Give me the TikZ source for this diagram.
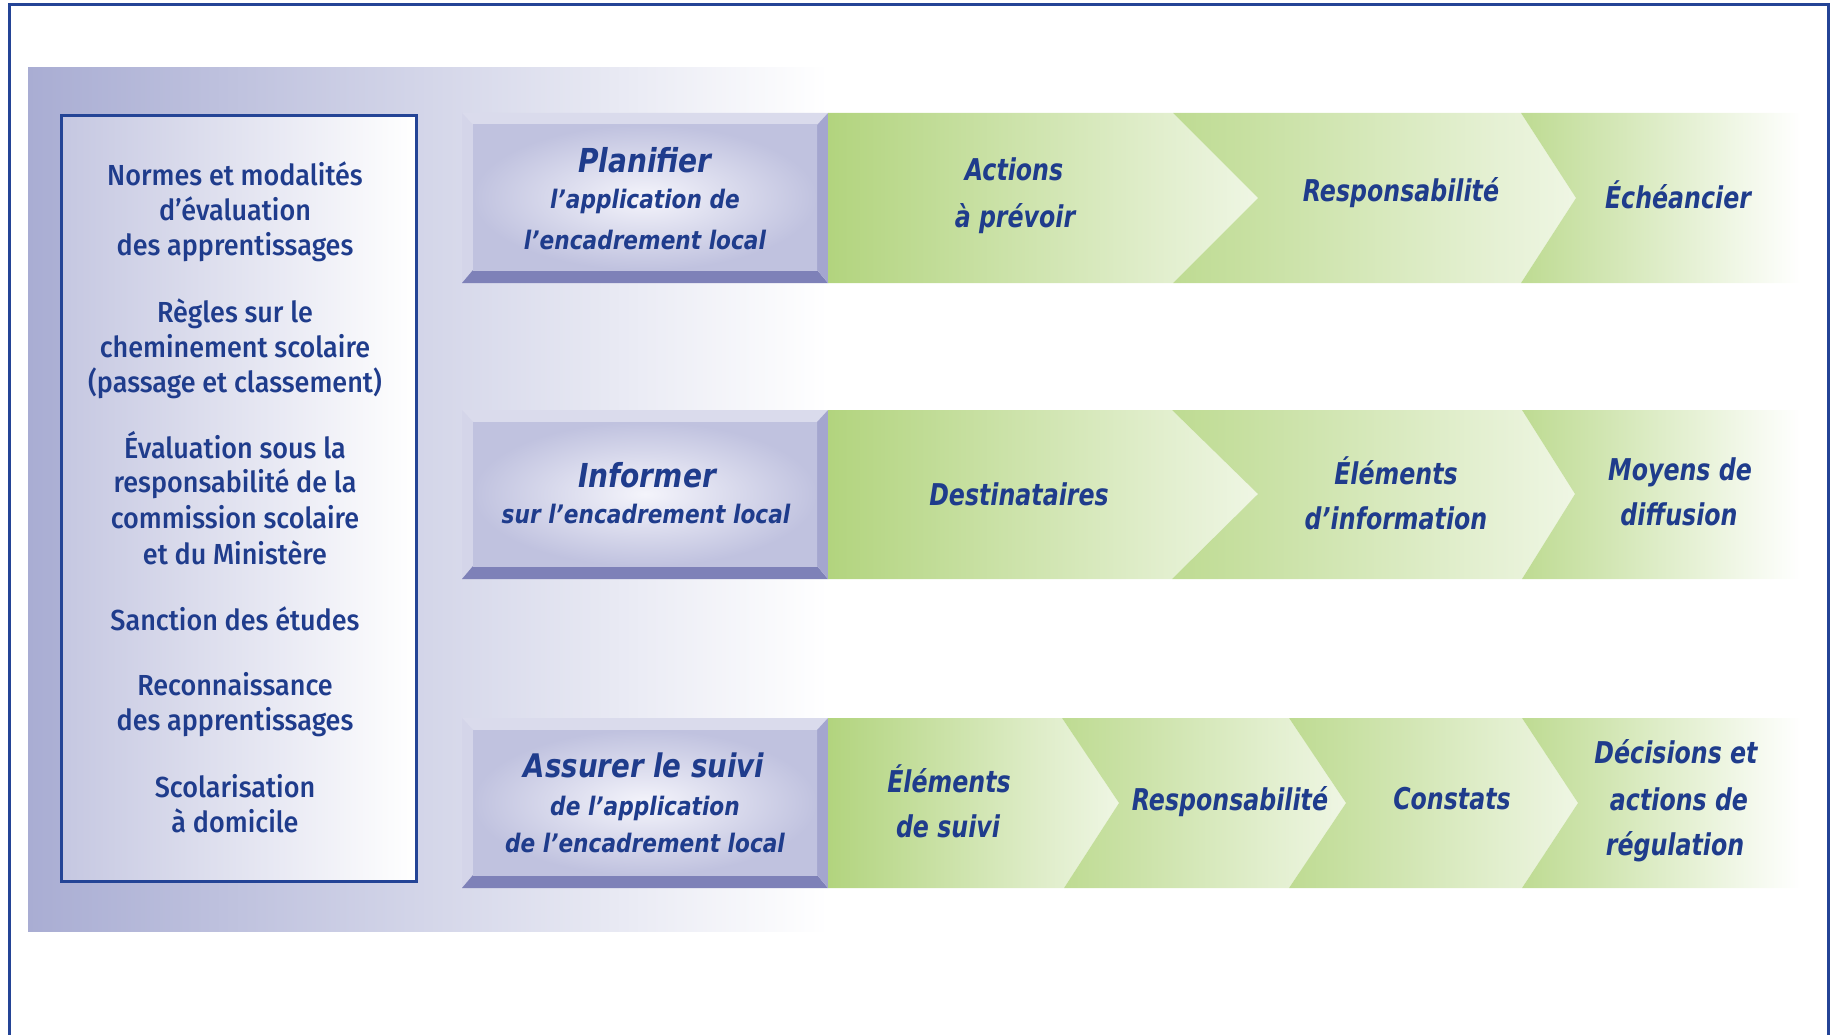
\documentclass[tikz,border=0pt]{standalone}
\usepackage{fontspec}
\setmainfont{Fira Sans}
\newfontfamily\lbfont{Fira Sans Medium}[FakeStretch=0.93]
\newfontfamily\kfont{DejaVu Sans Bold Oblique}[FakeStretch=0.85]
\newfontfamily\kfontn{DejaVu Sans Bold Oblique}[FakeStretch=0.79]
\definecolor{tblue}{RGB}{31,60,140}
\definecolor{bblue}{RGB}{36,68,150}
\definecolor{panL}{RGB}{169,173,211}
\definecolor{boxL}{RGB}{197,199,225}
\definecolor{bvTop}{RGB}{218,219,236}
\definecolor{bvLeft}{RGB}{212,213,233}
\definecolor{bvBot}{RGB}{126,129,184}
\definecolor{bvRight}{RGB}{164,166,207}
\definecolor{faceC}{RGB}{244,244,251}
\definecolor{faceE}{RGB}{192,194,223}
\definecolor{gA}{RGB}{178,212,126}
\definecolor{gB}{RGB}{190,219,146}
\definecolor{gR}{RGB}{239,246,228}
\begin{document}
\begin{tikzpicture}[x=1pt,y=-1pt,
  lt/.style={font=\lbfont\fontsize{29}{35}\selectfont, text=tblue, anchor=base, inner sep=0pt},
  kt/.style={font=\kfontn\fontsize{30}{36}\selectfont, text=tblue, anchor=base, inner sep=0pt},
  ttl/.style={kt, font=\kfont\fontsize{33}{40}\selectfont},
  sub/.style={kt, font=\kfont\fontsize{25.5}{30}\selectfont},
  chevA/.style={left color=gA, right color=gR},
  chevB/.style={left color=gB, right color=gR},
  chevEnd/.style={left color=gB, right color=white},
]
\useasboundingbox (0,0) rectangle (1831,1035);
% background panel
\fill[left color=panL, right color=white] (28,68) rectangle (828,931);
% left box
\draw[line width=3pt, draw=bblue, left color=boxL, right color=white] (61,116) rectangle (416,881);
% bevel boxes
\foreach \T/\B in {113/283,410/579,718/888}{
  \fill[bvTop] (462,\T) -- (828,\T) -- (817,\T+12) -- (473,\T+12) -- cycle;
  \fill[bvLeft] (462,\T) -- (473,\T+12) -- (473,\B-13) -- (462,\B) -- cycle;
  \fill[bvBot] (462,\B) -- (473,\B-13) -- (817,\B-13) -- (828,\B) -- cycle;
  \fill[bvRight] (828,\T) -- (828,\B) -- (817,\B-13) -- (817,\T+12) -- cycle;
  \shade[inner color=faceC, outer color=faceE] (473,\T+12) rectangle (817,\B-13);
}
% row 1 chevrons
\shade[chevA] (828,113) -- (1173,113) -- (1258,198) -- (1173,283) -- (828,283) -- cycle;
\shade[chevB] (1173,113) -- (1521,113) -- (1576,198) -- (1521,283) -- (1173,283) -- (1258,198) -- cycle;
\shade[chevEnd] (1521,113) -- (1801,113) -- (1801,283) -- (1521,283) -- (1576,198) -- cycle;
% row 2 chevrons
\shade[chevA] (828,410) -- (1172,410) -- (1258,494) -- (1172,579) -- (828,579) -- cycle;
\shade[chevB] (1172,410) -- (1522,410) -- (1575,494) -- (1522,579) -- (1172,579) -- (1258,494) -- cycle;
\shade[chevEnd] (1522,410) -- (1801,410) -- (1801,579) -- (1522,579) -- (1575,494) -- cycle;
% row 3 chevrons
\shade[chevA] (828,718) -- (1062,718) -- (1119,803) -- (1064,888) -- (828,888) -- cycle;
\shade[chevB] (1062,718) -- (1289,718) -- (1346,803) -- (1289,888) -- (1064,888) -- (1119,803) -- cycle;
\shade[chevB] (1289,718) -- (1522,718) -- (1578,803) -- (1522,888) -- (1289,888) -- (1346,803) -- cycle;
\shade[chevEnd] (1522,718) -- (1801,718) -- (1801,888) -- (1522,888) -- (1578,803) -- cycle;
% outer frame
\draw[bblue, line width=3pt] (9,1035) -- (9,5) -- (1828,5) -- (1828,1035);
% left box texts
\foreach \t/\y [count=\i] in {{Normes et modalités}/186, {d’évaluation}/221, {des apprentissages}/255, {Règles sur le}/322, {cheminement scolaire}/357, {(passage et classement)}/392, {Évaluation sous la}/458, {responsabilité de la}/492, {commission scolaire}/528, {et du Ministère}/564, {Sanction des études}/630, {Reconnaissance}/695, {des apprentissages}/730, {Scolarisation}/797, {à domicile}/832}
  \node[lt] (L\i) at (235,\y) {\t};
% bevel box texts
\node[ttl] (P1) at (645,173) {Planifier};
\node[sub] (P2) at (645,208) {l’application de};
\node[sub] (P3) at (645,249) {l’encadrement local};
\node[ttl] (I1) at (647,487) {Informer};
\node[sub] (I2) at (646,523) {sur l’encadrement local};
\node[ttl, font=\kfont\fontsize{32.5}{38}\selectfont] (S1) at (644,777) {Assurer le suivi};
\node[sub] (S2) at (645,815) {de l’application};
\node[sub] (S3) at (645,852) {de l’encadrement local};
% chevron texts
\node[kt] (A1) at (1014,181) {Actions};
\node[kt] (A2) at (1015,228) {à prévoir};
\node[kt] (A3) at (1401,202) {Responsabilité};
\node[kt] (A4) at (1678,208) {Échéancier};
\node[kt] (B1) at (1019,505) {Destinataires};
\node[kt] (B2) at (1396,484) {Éléments};
\node[kt] (B3) at (1396,529) {d’information};
\node[kt] (B4) at (1680,480) {Moyens de};
\node[kt] (B5) at (1679,525) {diffusion};
\node[kt] (C1) at (949,792) {Éléments};
\node[kt] (C2) at (948,837) {de suivi};
\node[kt] (C3) at (1230,810) {Responsabilité};
\node[kt] (C4) at (1452,809) {Constats};
\node[kt] (C5) at (1676,763) {Décisions et};
\node[kt] (C6) at (1679,810) {actions de};
\node[kt] (C7) at (1675,855) {régulation};
\end{tikzpicture}
\end{document}
